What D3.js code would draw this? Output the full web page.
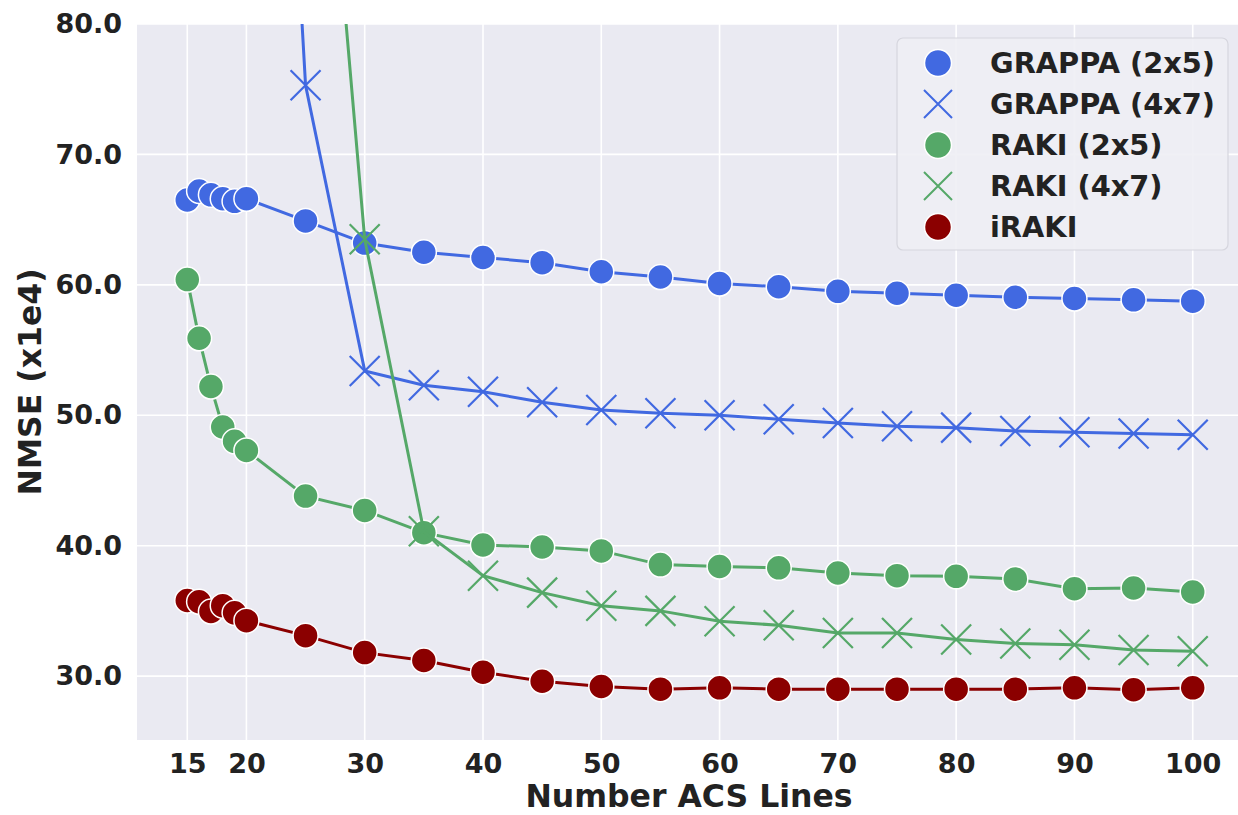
<!DOCTYPE html>
<html lang="en">
<head>
  <meta charset="utf-8">
  <title>NMSE vs ACS lines</title>
  <script src="https://d3js.org/d3.v7.min.js" charset="utf-8"></script>
  <style>
    body { margin: 0; background: #fff; }
    svg { display: block; font-family: "DejaVu Sans", sans-serif; font-weight: bold; }
  </style>
</head>
<body>
<script type="text/javascript">
  // data
  var acsLines = [15, 16, 17, 18, 19, 20, 25, 30, 35, 40, 45, 50, 55, 60, 65, 70, 75, 80, 85, 90, 95, 100];

  var grappa25 = [66.5, 67.2, 66.9, 66.6, 66.4, 66.6, 64.9, 63.2, 62.5, 62.1, 61.7, 61.0, 60.6, 60.1, 59.85, 59.5, 59.35, 59.2, 59.05, 58.95, 58.85, 58.75];
  var grappa47 = [185, 178, 172, 166, 160, 155, 75.3, 53.4, 52.3, 51.8, 51.0, 50.4, 50.15, 50.0, 49.7, 49.4, 49.15, 49.05, 48.8, 48.7, 48.6, 48.5];
  var raki25 = [60.4, 55.9, 52.2, 49.1, 48.0, 47.3, 43.8, 42.7, 41.0, 40.05, 39.9, 39.6, 38.55, 38.4, 38.3, 37.9, 37.7, 37.65, 37.45, 36.7, 36.75, 36.45];
  var raki47 = [200, 190, 180, 170, 160, 150, 116, 63.5, 41.1, 37.7, 36.4, 35.4, 35.0, 34.2, 33.9, 33.3, 33.3, 32.8, 32.5, 32.4, 32.0, 31.9];
  var iraki = [35.8, 35.7, 34.95, 35.4, 34.85, 34.25, 33.1, 31.8, 31.2, 30.3, 29.6, 29.2, 29.0, 29.1, 29.0, 29.0, 29.0, 29.0, 29.0, 29.1, 28.95, 29.1];

  var seriesNames = ["GRAPPA (2x5)", "GRAPPA (4x7)", "RAKI (2x5)", "RAKI (4x7)", "iRAKI"];
  var seriesColors = ["#4169E1", "#4169E1", "#55A868", "#55A868", "#8B0000"];
  var seriesMarkers = ["circle", "x", "circle", "x", "circle"];
  var seriesValues = [grappa25, grappa47, raki25, raki47, iraki];

  var xTicks = [15, 20, 30, 40, 50, 60, 70, 80, 90, 100];
  var yTicks = [30, 40, 50, 60, 70, 80];

  var series = seriesNames.map(function(name, i) {
    return {
      name: name,
      color: seriesColors[i],
      marker: seriesMarkers[i],
      points: acsLines.map(function(x, j) { return {x: x, y: seriesValues[i][j]}; })
    };
  });

  //svg canvas
  var width = 1238, height = 815;
  var plotLeft = 137, plotRight = 1243, plotTop = 24, plotBottom = 740;

  var svg = d3.select("body").append("svg")
      .attr("width", width)
      .attr("height", height);

  var x = d3.scaleLinear().domain([10.75, 104.25]).range([plotLeft, plotRight]);
  var y = d3.scaleLinear().domain([25.1, 80]).range([plotBottom, plotTop]);

  // background panel
  svg.append("rect")
      .attr("x", plotLeft).attr("y", plotTop)
      .attr("width", plotRight - plotLeft).attr("height", plotBottom - plotTop)
      .attr("fill", "#EAEAF2");

  // grid
  svg.append("g").selectAll("line")
      .data(xTicks).join("line")
      .attr("x1", d => x(d)).attr("x2", d => x(d))
      .attr("y1", plotTop).attr("y2", plotBottom)
      .attr("stroke", "#fff").attr("stroke-width", 1.6);

  svg.append("g").selectAll("line")
      .data(yTicks).join("line")
      .attr("x1", plotLeft).attr("x2", plotRight)
      .attr("y1", d => y(d)).attr("y2", d => y(d))
      .attr("stroke", "#fff").attr("stroke-width", 1.6);

  // axes (labels only, seaborn style)
  var xAxis = svg.append("g")
      .attr("transform", "translate(0," + plotBottom + ")")
      .call(d3.axisBottom(x).tickValues(xTicks).tickSize(0).tickPadding(14));
  xAxis.select(".domain").remove();
  xAxis.selectAll("text")
      .attr("font-family", "DejaVu Sans").attr("font-weight", "bold")
      .attr("font-size", 27).attr("fill", "#222");

  var yAxis = svg.append("g")
      .attr("transform", "translate(" + plotLeft + ",0)")
      .call(d3.axisLeft(y).tickValues(yTicks).tickSize(0).tickPadding(15).tickFormat(d3.format(".1f")));
  yAxis.select(".domain").remove();
  yAxis.selectAll("text")
      .attr("font-family", "DejaVu Sans").attr("font-weight", "bold")
      .attr("font-size", 27).attr("fill", "#222");

  svg.append("text")
      .attr("x", (plotLeft + plotRight) / 2 - 1)
      .attr("y", 807)
      .attr("text-anchor", "middle")
      .attr("font-size", 31.5).attr("fill", "#222")
      .text("Number ACS Lines");

  svg.append("text")
      .attr("transform", "translate(41," + ((plotTop + plotBottom) / 2) + ") rotate(-90)")
      .attr("text-anchor", "middle")
      .attr("font-size", 31.5).attr("fill", "#222")
      .text("NMSE (x1e4)");

  // clip to panel
  svg.append("clipPath").attr("id", "panel")
    .append("rect")
      .attr("x", plotLeft).attr("y", plotTop)
      .attr("width", plotRight - plotLeft).attr("height", plotBottom - plotTop);

  var plot = svg.append("g").attr("clip-path", "url(#panel)");

  var line = d3.line().x(d => x(d.x)).y(d => y(d.y));

  function xPath(s) {
    return "M" + (-s) + "," + (-s) + "L" + s + "," + s + "M" + (-s) + "," + s + "L" + s + "," + (-s);
  }

  function drawMarkers(g, s, pts, r) {
    if (s.marker == "circle") {
      g.selectAll("circle")
          .data(pts).join("circle")
          .attr("cx", d => x(d.x)).attr("cy", d => y(d.y))
          .attr("r", r)
          .attr("fill", s.color)
          .attr("stroke", "#fff").attr("stroke-width", 1.5);
    } else {
      g.selectAll("path")
          .data(pts).join("path")
          .attr("transform", d => "translate(" + x(d.x) + "," + y(d.y) + ")")
          .attr("d", xPath(r + 2.5))
          .attr("fill", "none")
          .attr("stroke", s.color).attr("stroke-width", 2.2);
    }
  }

  series.forEach(function(s) {
    var g = plot.append("g");
    g.append("path")
        .datum(s.points)
        .attr("d", line)
        .attr("fill", "none")
        .attr("stroke", s.color)
        .attr("stroke-width", 3);
    drawMarkers(g.append("g"), s, s.points, 12.5);
  });

  // legend
  var legend = svg.append("g").attr("transform", "translate(897,38)");
  legend.append("rect")
      .attr("width", 331).attr("height", 212)
      .attr("rx", 6)
      .attr("fill", "#EEEEF4").attr("fill-opacity", 0.9)
      .attr("stroke", "#D6D6DE").attr("stroke-width", 1.2);

  var items = legend.selectAll("g.item")
      .data(series).join("g")
      .attr("class", "item")
      .attr("transform", (d, i) => "translate(0," + (25 + i * 41) + ")");

  items.each(function(s) {
    var it = d3.select(this);
    if (s.marker == "circle") {
      it.append("circle").attr("cx", 41).attr("cy", 0).attr("r", 13.5)
          .attr("fill", s.color).attr("stroke", "#fff").attr("stroke-width", 1.5);
    } else {
      it.append("path").attr("transform", "translate(41,0)")
          .attr("d", xPath(14)).attr("fill", "none")
          .attr("stroke", s.color).attr("stroke-width", 2);
    }
    it.append("text")
        .attr("x", 93).attr("y", 0).attr("dy", "0.36em")
        .attr("font-size", 28.8).attr("fill", "#222")
        .text(s.name);
  });
</script>
</body>
</html>
